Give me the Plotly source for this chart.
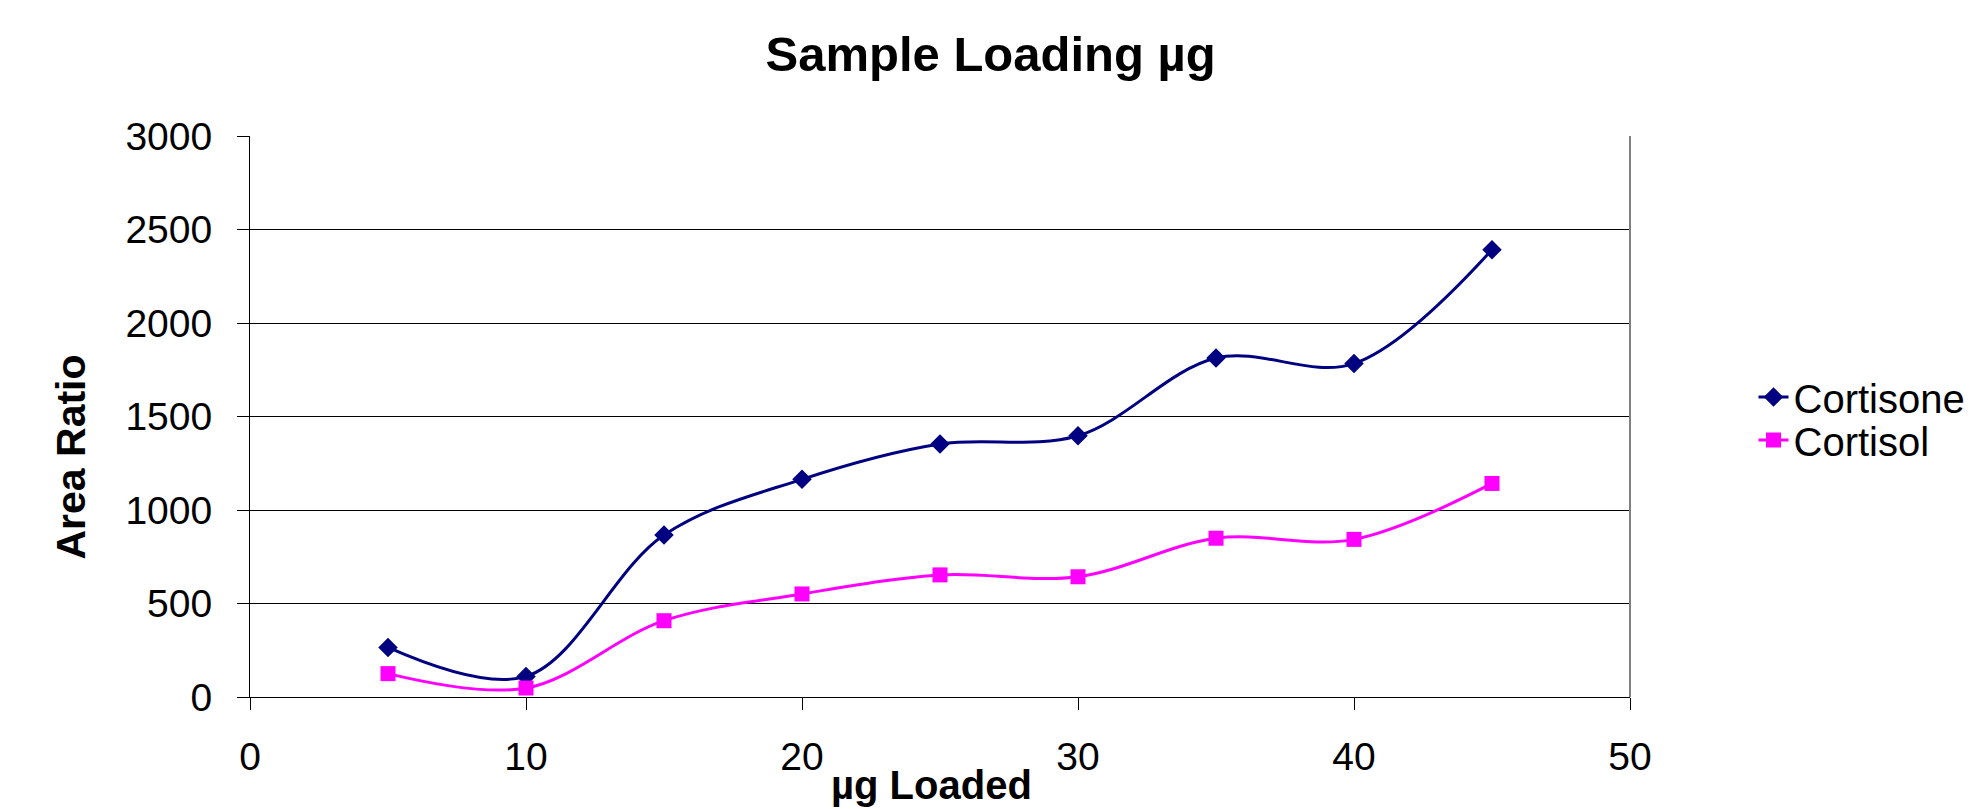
import plotly.graph_objects as go

# Data
ug_loaded = [5, 10, 15, 20, 25, 30, 35, 40, 45]
cortisone = [265, 110, 866, 1164, 1353, 1397, 1813, 1783, 2392]
cortisol = [125, 48, 408, 551, 653, 643, 849, 843, 1142]

x_ticks = [0, 10, 20, 30, 40, 50]
y_ticks = [0, 500, 1000, 1500, 2000, 2500, 3000]

FONT = "Liberation Sans, Arial, sans-serif"
W, H = 1964, 801  # page body has an 8px margin

fig = go.Figure()
fig.add_trace(go.Scatter(
    x=ug_loaded, y=cortisone, name="Cortisone", mode="lines+markers",
    line=dict(color="#000080", width=3, shape="spline", smoothing=1),
    marker=dict(symbol="diamond", size=15, color="#000080"),
    legend="legend",
))
fig.add_trace(go.Scatter(
    x=ug_loaded, y=cortisol, name="Cortisol", mode="lines+markers",
    line=dict(color="#FF00FF", width=3, shape="spline", smoothing=1),
    marker=dict(symbol="square", size=15, color="#FF00FF"),
    legend="legend2",
))

legend_common = dict(xanchor="left", yanchor="middle",
                     font=dict(family=FONT, size=40, color="black"),
                     bgcolor="rgba(0,0,0,0)")

fig.update_layout(
    width=W, height=H,
    margin=dict(l=242, r=342, t=128, b=112, autoexpand=False),
    paper_bgcolor="white", plot_bgcolor="white",
    font=dict(family=FONT, size=39, color="black"),
    title=dict(text="Sample Loading µg", xref="container", x=0.5003,
               yref="container", y=1 - 46 / H, yanchor="middle", xanchor="center",
               font=dict(family=FONT, size=49, color="black", weight="bold")),
    showlegend=True,
    legend=dict(x=1.0895, y=0.5348, **legend_common),
    legend2=dict(x=1.0895, y=0.4581, **legend_common),
    xaxis=dict(range=[0, 50], tickvals=x_ticks, ticktext=[str(v) for v in x_ticks],
               ticks="outside", ticklen=12, tickcolor="black", tickwidth=1,
               showline=True, linecolor="black", linewidth=1,
               showgrid=False, zeroline=False, ticklabelstandoff=13,
               tickfont=dict(family=FONT, size=39, color="black")),
    yaxis=dict(range=[0, 3000], tickvals=y_ticks, ticktext=[str(v) for v in y_ticks],
               ticks="outside", ticklen=12, tickcolor="black", tickwidth=1,
               showline=True, linecolor="black", linewidth=1,
               showgrid=True, gridcolor="black", gridwidth=1, zeroline=False,
               ticklabelstandoff=17,
               tickfont=dict(family=FONT, size=39, color="black")),
    annotations=[
        dict(text="<b>Area Ratio</b>", xref="paper", yref="paper",
             x=(71 - 250) / 1380, y=(697 - 457.5) / 561, textangle=-90,
             showarrow=False, xanchor="center", yanchor="middle",
             font=dict(family=FONT, size=41, color="black")),
        dict(text="<b>µg Loaded</b>", xref="paper", yref="paper",
             x=(931 - 250) / 1380, y=(697 - 785) / 561,
             showarrow=False, xanchor="center", yanchor="middle",
             font=dict(family=FONT, size=40, color="black")),
    ],
    shapes=[
        dict(type="line", xref="paper", yref="paper", x0=1, x1=1, y0=0, y1=1,
             line=dict(color="#808080", width=2)),
    ],
)

fig.write_html("out.html")
